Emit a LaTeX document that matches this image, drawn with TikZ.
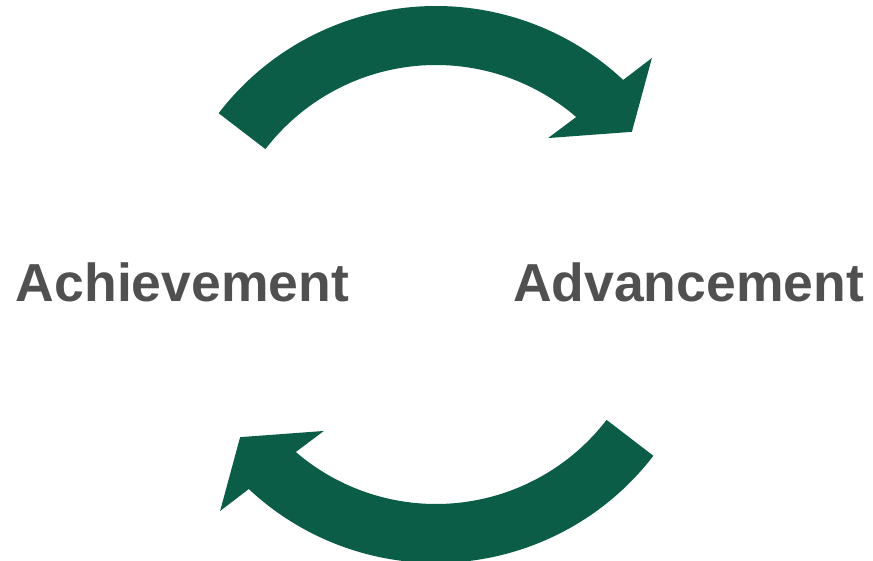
\documentclass[tikz,border=0pt]{standalone}
\usepackage{xcolor}
\usepackage{fontspec}
\usepackage{tikz}
\setmainfont{Liberation Sans}
\definecolor{cyclegreen}{RGB}{11, 93, 72}
\definecolor{labelgray}{RGB}{80, 80, 80}

\begin{document}
\begin{tikzpicture}[x=1pt, y=1pt,
    cyclelabel/.style={anchor=base, inner sep=0pt, text=labelgray,
      font=\fontsize{53.5}{60}\selectfont\bfseries}]
      \useasboundingbox (0,0) rectangle (873,560);
      \clip (0,0) rectangle (873,560);
      % curved arrows: the lower one is the upper one turned half round
      \foreach \cy/\turn [count=\n] in {280/0, 271/180} {
        \begin{scope}[shift={(436,\cy)}, rotate=\turn]
          \fill[cyclegreen] (142.5:274) arc[start angle=142.5, end angle=46.9, radius=274]
            -- (45.8:309.7) -- (37.1:245.6) -- (51.7:180.9) -- (49.3:215)
            arc[start angle=49.3, end angle=142.5, radius=215] -- cycle;
        \end{scope}
      }
      % Label: left and right of the cycle
      \node[cyclelabel] (achieve) at (182.5,258.3) {Achievement};
      \node[cyclelabel] (advance) at (688.5,258.3) {Advancement};
    \end{tikzpicture}
\end{document}
